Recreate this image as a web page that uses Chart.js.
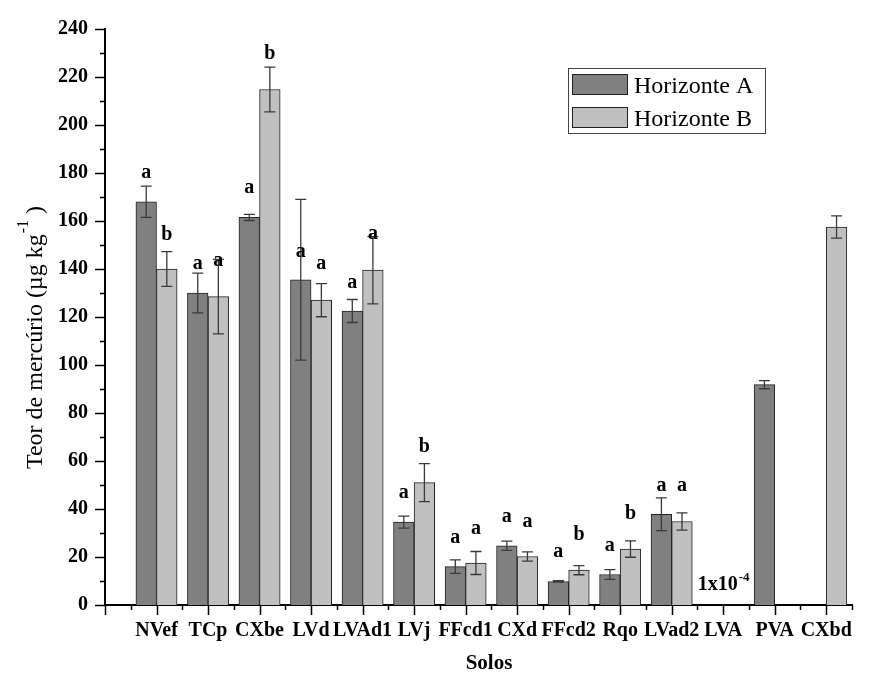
<!DOCTYPE html>
<html><head><meta charset="utf-8">
<script src="https://cdn.jsdelivr.net/npm/chart.js@4/dist/chart.umd.min.js"></script>
<style>html,body{margin:0;padding:0;background:#fff}#wrap{width:870px;height:673px;position:relative}</style>
</head><body><div id="wrap"><canvas id="c"></canvas></div>
<script>
// ---- data ----
const categories = ['NVef','TCp','CXbe','LVd','LVAd1','LVj','FFcd1','CXd','FFcd2','Rqo','LVad2','LVA','PVA','CXbd'];
const seriesNames = ['Horizonte A','Horizonte B'];
const horizonA    = [168, 130, 161.5, 135.5, 122.5, 34.5, 16, 24.7, 9.8, 12.7, 37.8, 0.0001, 91.8, null];
const horizonAErr = [6.5, 8.3, 1.3, 33.5, 4.8, 2.5, 2.8, 1.9, 0.3, 2.0, 6.8, 0, 1.7, null];
const horizonB    = [140, 128.5, 214.8, 127, 139.5, 51, 17.5, 20.2, 14.5, 23.3, 34.8, 0.0001, null, 157.5];
const horizonBErr = [7.2, 15.5, 9.3, 6.9, 14, 7.9, 4.8, 1.9, 1.9, 3.4, 3.6, 0, null, 4.6];
const lettersA  = ['a','a','a','a','a','a','a','a','a','a','a','','',''];
const lettersB  = ['b','a','b','a','a','b','a','a','b','b','a','','',''];
const lettersAY = [178, 140, 171.5, 145, 132, 44.5, 26, 34.6, 19.8, 22.7, 47.4, null, null, null];
const lettersBY = [152, 141.4, 227.6, 139.8, 152.6, 63.9, 29.7, 32.6, 27.2, 35.9, 47.4, null, null, null];
const yMin = 0, yMax = 240, yStep = 20;
const noteText = '1x10', noteSup = '-4', noteCategory = 'LVA', noteY = 6.2;
const yTitle = ['Teor de mercúrio (µg kg', '-1', ' )'];
const xTitle = 'Solos';

const SERIF = "'Liberation Serif','Times New Roman',serif";
const colA = '#808080', colB = '#c0c0c0';

const overlay = {
  id: 'overlay',
  afterDatasetsDraw(chart) {
    const ctx = chart.ctx, ys = chart.scales.y;
    const sets = [[0, horizonAErr, lettersA, lettersAY], [1, horizonBErr, lettersB, lettersBY]];
    ctx.save();
    sets.forEach(([di, err, lets, ly]) => {
      const meta = chart.getDatasetMeta(di);
      meta.data.forEach((bar, i) => {
        const v = chart.data.datasets[di].data[i].y;
        if (v == null) return;
        const e = err[i];
        if (e) {
          const yt = ys.getPixelForValue(v + e), yb = ys.getPixelForValue(v - e);
          ctx.strokeStyle = '#3a3a3a'; ctx.lineWidth = 1.3;
          ctx.beginPath();
          ctx.moveTo(bar.x, yt); ctx.lineTo(bar.x, yb);
          ctx.moveTo(bar.x - 5.5, yt); ctx.lineTo(bar.x + 5.5, yt);
          ctx.moveTo(bar.x - 5.5, yb); ctx.lineTo(bar.x + 5.5, yb);
          ctx.stroke();
        }
        if (lets[i]) {
          ctx.fillStyle = '#000'; ctx.font = 'bold 20px ' + SERIF;
          ctx.textAlign = 'center'; ctx.textBaseline = 'alphabetic';
          ctx.fillText(lets[i], bar.x, ys.getPixelForValue(ly[i]));
        }
      });
    });
    ctx.restore();
  },
  afterDraw(chart) {
    const ctx = chart.ctx, xs = chart.scales.x, ys = chart.scales.y, a = chart.chartArea;
    ctx.save();
    // tick marks
    ctx.strokeStyle = '#000'; ctx.lineWidth = 1.5;
    ctx.beginPath();
    for (let v = yMin; v <= yMax; v += yStep / 2) {
      const p = Math.round(ys.getPixelForValue(v)) + 0.5;
      const len = (v % yStep === 0) ? 10 : 5;
      ctx.moveTo(a.left - len, p); ctx.lineTo(a.left, p);
    }
    for (let v = 0; v <= categories.length + 0.5; v += 0.5) {
      const p = Math.round(xs.getPixelForValue(v)) + 0.5;
      const len = (v % 1 === 0) ? 10 : 5;
      ctx.moveTo(p, a.bottom); ctx.lineTo(p, a.bottom + len);
    }
    ctx.stroke();
    // note for LVA
    const nx = xs.getPixelForValue(categories.indexOf(noteCategory) + 1);
    const ny = ys.getPixelForValue(noteY);
    ctx.fillStyle = '#000';
    ctx.font = 'bold 20px ' + SERIF;
    const w1 = ctx.measureText(noteText).width;
    ctx.font = 'bold 13px ' + SERIF;
    const w2 = ctx.measureText(noteSup).width;
    let sx = nx - (w1 + w2) / 2;
    ctx.textAlign = 'left'; ctx.textBaseline = 'alphabetic';
    ctx.font = 'bold 20px ' + SERIF; ctx.fillText(noteText, sx, ny);
    ctx.font = 'bold 13px ' + SERIF; ctx.fillText(noteSup, sx + w1 + 1, ny - 9);
    // y title
    ctx.save();
    ctx.translate(42, 338);
    ctx.rotate(-Math.PI / 2);
    ctx.font = '24px ' + SERIF;
    const t0 = ctx.measureText(yTitle[0]).width, t2 = ctx.measureText(yTitle[2]).width;
    ctx.font = '16px ' + SERIF;
    const t1 = ctx.measureText(yTitle[1]).width;
    let tx = -(t0 + t1 + t2) / 2;
    ctx.font = '24px ' + SERIF; ctx.fillText(yTitle[0], tx, 0);
    ctx.font = '16px ' + SERIF; ctx.fillText(yTitle[1], tx + t0 + 1, -14);
    ctx.font = '24px ' + SERIF; ctx.fillText(yTitle[2], tx + t0 + t1 + 1, 0);
    ctx.restore();
    // x title
    ctx.font = 'bold 21px ' + SERIF; ctx.textAlign = 'center';
    ctx.fillText(xTitle, 489, 669);
    // legend
    ctx.strokeStyle = '#444'; ctx.lineWidth = 1;
    ctx.strokeRect(568.5, 68.5, 197, 65);
    const cols = [colA, colB];
    ctx.textAlign = 'left'; ctx.font = '24px ' + SERIF;
    seriesNames.forEach((nm, i) => {
      const top = 74 + i * 33;
      ctx.fillStyle = cols[i]; ctx.fillRect(572, top, 56, 21);
      ctx.strokeStyle = '#222'; ctx.strokeRect(572.5, top + 0.5, 55, 20);
      ctx.fillStyle = '#000'; ctx.fillText(nm, 634, top + 19);
    });
    ctx.restore();
  }
};

const mk = (vals) => categories.map((c, i) => ({ x: i + 1, y: vals[i] }));

new Chart(document.getElementById('c'), {
  type: 'bar',
  data: {
    datasets: [
      { label: seriesNames[0], data: mk(horizonA), backgroundColor: colA, borderColor: '#222', borderWidth: 1 },
      { label: seriesNames[1], data: mk(horizonB), backgroundColor: colB, borderColor: '#222', borderWidth: 1 }
    ]
  },
  options: {
    responsive: true, maintainAspectRatio: false, animation: false,
    layout: { padding: { top: 25, right: 18, left: 0, bottom: 0 } },
    datasets: { bar: { barThickness: 20.6 } },
    plugins: { legend: { display: false }, tooltip: { enabled: false } },
    scales: {
      x: {
        type: 'linear', min: 0, max: categories.length + 0.5, offset: false,
        grid: { display: false, drawTicks: false, offset: false },
        border: { display: true, color: '#000', width: 2 },
        ticks: {
          stepSize: 0.5, autoSkip: false, maxRotation: 0, padding: 14, color: '#000',
          font: { family: SERIF, size: 20, weight: 'bold' },
          callback: (v) => (Number.isInteger(v) && v >= 1 && v <= categories.length) ? categories[v - 1] : ''
        },
        afterFit: (s) => { s.height = 68; }
      },
      y: {
        min: yMin, max: yMax,
        grid: { display: false, drawTicks: false },
        border: { display: true, color: '#000', width: 2 },
        ticks: { stepSize: yStep, padding: 17, color: '#000', font: { family: SERIF, size: 20, weight: 'bold' } },
        afterFit: (s) => { s.width = 105; }
      }
    }
  },
  plugins: [overlay]
});
</script></body></html>
